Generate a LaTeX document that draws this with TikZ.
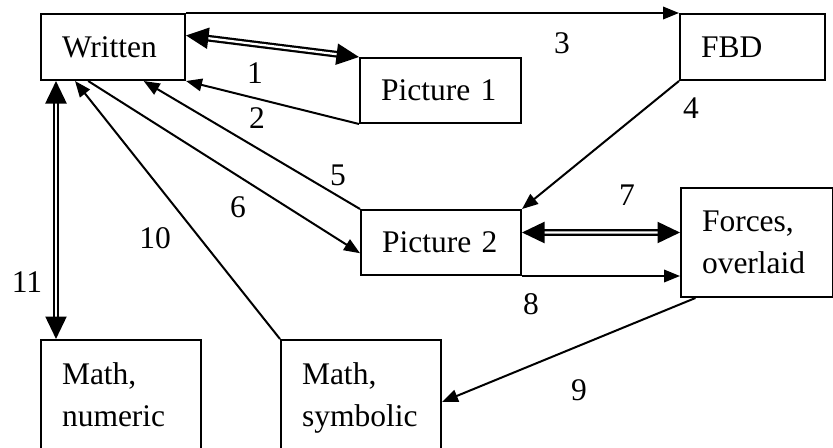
\documentclass[tikz,border=0pt]{standalone}
\usepackage{fontspec}
\setmainfont{Liberation Serif}
\usetikzlibrary{arrows.meta, calc}

\tikzset{
    box/.style={draw, line width=0.8pt, anchor=north west, align=left,
        inner xsep=8.4pt, inner ysep=0pt},
    link/.style={line width=0.8pt, -{Triangle[length=6.4pt, width=5pt]}},
    twoway/.style={double, line width=0.9pt, double distance=0.9pt,
        {Triangle[length=9pt, width=8.4pt]}-{Triangle[length=9pt, width=8.4pt]}},
    num/.style={inner sep=0pt}
}

\begin{document}
\begin{tikzpicture}[x=0.4pt, y=-0.4pt, font=\fontsize{12.6}{16.8}\selectfont]
    \useasboundingbox (0,0) rectangle (833,447);

    % boxes
    \node[box, text width=40.8pt, minimum height=26.4pt] (written) at (40,13) {Written};
    \node[box, text width=47.6pt, minimum height=26pt] (pic1) at (359,57) {Picture 1};
    \node[box, text width=41.2pt, minimum height=26.4pt] (fbd) at (679,13) {FBD};
    \node[box, text width=47.2pt, minimum height=26pt] (pic2) at (360,209) {Picture 2};
    \node[box, text width=44pt, minimum height=43.6pt] (forces) at (680,187) {Forces,\\overlaid};
    \node[box, text width=47.2pt, inner ysep=9pt, text height=8.6pt, text depth=50pt] (numeric) at (40,339) {Math,\\numeric};
    \node[box, text width=47.2pt, inner ysep=9pt, text height=8.6pt, text depth=50pt] (symbolic) at (280,339) {Math,\\symbolic};

    % connectors
    \draw[twoway] ($(written.north east)!0.33!(written.south east)$) -- (pic1.north west);
    \draw[link] (pic1.south west) -- (written.south east);
    \draw[link] (written.north east) -- (fbd.north west);
    \draw[link] (fbd.south west) -- (pic2.north east);
    \draw[link] (pic2.north west) -- ($(written.south west)!0.71!(written.south east)$);
    \draw[link] ($(written.south west)!0.33!(written.south east)$) -- ($(pic2.north west)!0.66!(pic2.south west)$);
    \draw[twoway] ($(pic2.east)+(0,-10)$) -- ($(forces.west)+(0,-10)$);
    \draw[link] (pic2.south east) -- (pic2.south east -| forces.west);
    \draw[link] ($(forces.south west)!0.1!(forces.south east)$) -- ($(symbolic.north east)+(0,63)$);
    \draw[link] (symbolic.north west) -- ($(written.south west)!0.24!(written.south east)$);
    \draw[twoway] ($(written.south west)+(16,0)$) -- ($(numeric.north west)+(16,0)$);

    % numbers
    \node[num] (n1) at (255,73) {1};
    \node[num] (n2) at (257,118) {2};
    \node[num] (n3) at (562,43) {3};
    \node[num] (n4) at (691,108) {4};
    \node[num] (n5) at (338,175) {5};
    \node[num] (n6) at (238,207) {6};
    \node[num] (n7) at (627,195) {7};
    \node[num] (n8) at (531,304) {8};
    \node[num] (n9) at (579,390) {9};
    \node[num] (n10) at (155,238) {10};
    \node[num] (n11) at (27,282) {11};
\end{tikzpicture}
\end{document}
